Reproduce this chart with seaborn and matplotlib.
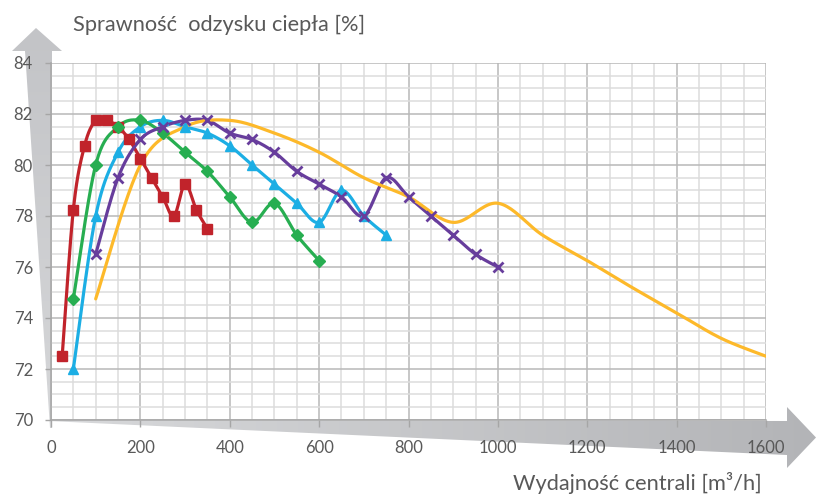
import numpy as np
import pandas as pd
import matplotlib
matplotlib.use("Agg")
import matplotlib.pyplot as plt
from matplotlib.patches import Polygon
from matplotlib.ticker import MultipleLocator
import seaborn as sns

# Airflow [m3/h] and heat-recovery efficiency [%] for each unit size
red_x = [25, 50, 75, 100, 125, 150, 175, 200, 225, 250, 275, 300, 325, 350]
red_y = [72.5, 78.25, 80.75, 81.75, 81.75, 81.5, 81.0, 80.25, 79.5, 78.75, 78.0, 79.25, 78.25, 77.5]

green_x = [50, 100, 150, 200, 250, 300, 350, 400, 450, 500, 550, 600]
green_y = [74.75, 80.0, 81.5, 81.75, 81.25, 80.5, 79.75, 78.75, 77.75, 78.5, 77.25, 76.25]

cyan_x = [50, 100, 150, 200, 250, 300, 350, 400, 450, 500, 550, 600, 650, 700, 750]
cyan_y = [72.0, 78.0, 80.5, 81.5, 81.75, 81.5, 81.25, 80.75, 80.0, 79.25, 78.5, 77.75, 79.0, 78.0, 77.25]

purple_x = [100, 150, 200, 250, 300, 350, 400, 450, 500, 550, 600, 650, 700, 750,
            800, 850, 900, 950, 1000]
purple_y = [76.5, 79.5, 81.0, 81.5, 81.75, 81.75, 81.25, 81.0, 80.5, 79.75, 79.25, 78.75,
            78.0, 79.5, 78.75, 78.0, 77.25, 76.5, 76.0]

yellow_x = [100, 200, 300, 400, 500, 600, 700, 800, 900, 1000, 1100, 1200, 1300, 1400, 1500, 1600]
yellow_y = [74.75, 80.0, 81.5, 81.75, 81.25, 80.5, 79.5, 78.75, 77.75, 78.5, 77.25, 76.25,
            75.2, 74.2, 73.2, 72.5]

x_ticks = [0, 200, 400, 600, 800, 1000, 1200, 1400, 1600]
y_ticks = [70, 72, 74, 76, 78, 80, 82, 84]

title_text = "Sprawność  odzysku ciepła [%]"
xlabel_text = "Wydajność centrali [m³/h]"


def smooth(xs, ys, n=24):
    """Spreadsheet-style smoothed line: cubic Bezier segments through every point."""
    p = np.column_stack([xs, ys]).astype(float)
    ext = np.vstack([p[0], p, p[-1]])
    parts = []
    for i in range(len(p) - 1):
        p0, p1, p2, p3 = ext[i], ext[i + 1], ext[i + 2], ext[i + 3]
        c1 = p1 + (p2 - p0) / 6.0
        c2 = p2 - (p3 - p1) / 6.0
        t = np.linspace(0, 1, n, endpoint=(i == len(p) - 2))[:, None]
        parts.append((1 - t) ** 3 * p1 + 3 * (1 - t) ** 2 * t * c1
                     + 3 * (1 - t) * t ** 2 * c2 + t ** 3 * p2)
    return np.vstack(parts)


sns.set_theme(style="white")
plt.rcParams["font.family"] = ["Lato", "DejaVu Sans"]
text_col = "#595959"

W, H = 816, 497
fig = plt.figure(figsize=(W / 100, H / 100), dpi=100)

# Background layer in pixel coordinates for the two big arrows
bg = fig.add_axes([0, 0, 1, 1], zorder=-1)
bg.set_xlim(0, W)
bg.set_ylim(H, 0)
bg.axis("off")


def gradient_arrow(verts, c_start, c_end, horizontal):
    poly = Polygon(verts, closed=True, facecolor="none", edgecolor="none")
    bg.add_patch(poly)
    a = np.array(matplotlib.colors.to_rgb(c_start))
    b = np.array(matplotlib.colors.to_rgb(c_end))
    t = np.linspace(0, 1, 256)
    grad = a[None, :] * (1 - t[:, None]) + b[None, :] * t[:, None]
    if horizontal:
        img = grad[None, :, :]
    else:
        img = grad[:, None, :]
    xs = [v[0] for v in verts]
    ys = [v[1] for v in verts]
    im = bg.imshow(img, extent=(min(xs), max(xs), max(ys), min(ys)),
                   aspect="auto", interpolation="bilinear")
    im.set_clip_path(poly)


# vertical arrow (top to bottom colours)
gradient_arrow([(50, 428), (25, 51), (12, 51), (36, 28), (62, 51), (52, 51), (52, 428)],
               "#c3c4c7", "#d6d7d9", horizontal=False)
# horizontal arrow (left to right colours)
gradient_arrow([(48, 420), (787, 421), (787, 407), (816, 437.5), (787, 468), (787, 455), (48, 421)],
               "#d8d9db", "#b3b4b7", horizontal=True)

ax = fig.add_axes([51 / W, 1 - 420 / H, (766 - 51) / W, (420 - 63) / H], zorder=1)
ax.set_facecolor("white")

series = [
    (red_x, red_y, "#c1232b", "s", 7.0, 1.0),
    (cyan_x, cyan_y, "#1caee4", "^", 7.5, 1.0),
    (green_x, green_y, "#27ae51", "D", 6.0, 1.0),
    (purple_x, purple_y, "#673d9c", "x", 7.0, 2.0),
    (yellow_x, yellow_y, "#fdb92a", None, 0, 0),
]

for xs, ys, col, mk, ms, mew in series:
    curve = smooth(xs, ys)
    df = pd.DataFrame({"x": curve[:, 0], "y": curve[:, 1]})
    sns.lineplot(data=df, x="x", y="y", ax=ax, color=col, lw=2.3, sort=False,
                 estimator=None, zorder=3)
    if mk is not None:
        ax.plot(xs, ys, ls="none", marker=mk, ms=ms, color=col, mec=col, mew=mew, zorder=4)

ax.set_xlim(0, 1600)
ax.set_ylim(70, 84)
ax.set_xticks(x_ticks)
ax.set_yticks(y_ticks)
ax.set_xticklabels([str(v) for v in x_ticks])
ax.set_yticklabels([str(v) for v in y_ticks])
ax.xaxis.set_minor_locator(MultipleLocator(50))
ax.yaxis.set_minor_locator(MultipleLocator(0.5))
ax.grid(which="minor", color="#dcdcdc", lw=1.1, zorder=0)
ax.grid(which="major", color="#b8b8b8", lw=1.1, zorder=0)
ax.set_axisbelow(True)
ax.set_xlabel("")
ax.set_ylabel("")

for s in ["top", "right"]:
    ax.spines[s].set_visible(False)
for s in ["left", "bottom"]:
    ax.spines[s].set_color("#a6a6a6")
    ax.spines[s].set_linewidth(1.1)

ax.tick_params(axis="y", which="major", left=True, length=4.5, width=1.0, color="#a6a6a6",
               pad=8.5, labelsize=12, labelcolor=text_col)
ax.tick_params(axis="x", which="major", bottom=True, length=5, width=1.0, color="#a6a6a6",
               pad=9.5, labelsize=12, labelcolor=text_col)
ax.tick_params(which="minor", left=False, bottom=False)

fig.text(73 / W, 1 - 31 / H, title_text, fontsize=15.7, color=text_col,
         ha="left", va="baseline")
fig.text(762 / W, 1 - 490 / H, xlabel_text, fontsize=15.7, color=text_col,
         ha="right", va="baseline")

fig.savefig("out.png", dpi=100)
